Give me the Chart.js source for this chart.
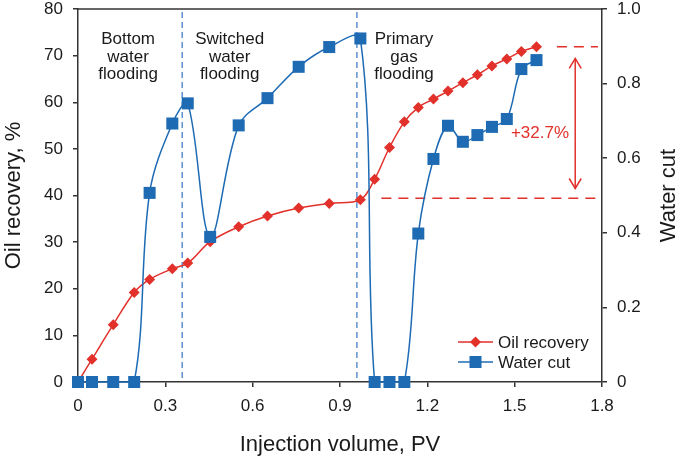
<!DOCTYPE html>
<html>
<head>
<meta charset="utf-8">
<script src="https://cdn.jsdelivr.net/npm/chart.js@4/dist/chart.umd.min.js"></script>
<style>
html,body{margin:0;padding:0;background:#fff;}
#wrap{width:685px;height:461px;}
</style>
</head>
<body>
<div id="wrap"><canvas id="c" width="685" height="461"></canvas></div>
<script>
// ---- data ----
const injectionVolume = [0, 0.048, 0.121, 0.193, 0.246, 0.324, 0.377, 0.454, 0.552, 0.651, 0.758, 0.863, 0.970,
  1.019, 1.070, 1.121, 1.169, 1.221, 1.271, 1.322, 1.372, 1.422, 1.473, 1.523, 1.575];
const oilRecovery = [0, 4.9, 12.3, 19.2, 22.0, 24.3, 25.5, 30.1, 33.3, 35.6, 37.3, 38.3, 39.1,
  43.5, 50.3, 55.8, 58.9, 60.7, 62.4, 64.2, 65.9, 67.8, 69.3, 70.9, 71.9];
const waterCut = [0, 0, 0, 0, 0.507, 0.693, 0.747, 0.389, 0.688, 0.761, 0.845, 0.898, 0.921,
  0, 0, 0, 0.398, 0.598, 0.687, 0.644, 0.662, 0.684, 0.705, 0.839, 0.863];

const seriesLabels = ['Oil recovery', 'Water cut'];
const xTicks = [0, 0.3, 0.6, 0.9, 1.2, 1.5, 1.8];
const xTickLabels = ['0', '0.3', '0.6', '0.9', '1.2', '1.5', '1.8'];
const yTicks = [0, 10, 20, 30, 40, 50, 60, 70, 80];
const yTickLabels = ['0', '10', '20', '30', '40', '50', '60', '70', '80'];
const y1Ticks = [0, 0.2, 0.4, 0.6, 0.8, 1.0];
const y1TickLabels = ['0', '0.2', '0.4', '0.6', '0.8', '1.0'];

const stageBoundaries = [0.358, 0.958];
const stageNames = [['Bottom', 'water', 'flooding'], ['Switched', 'water', 'flooding'], ['Primary', 'gas', 'flooding']];
const stageNameX = [0.172, 0.521, 1.12];
const stageNameY = 72.4;            // first line baseline (oil recovery units)
const recoveryBefore = 39.4;        // level before gas flooding
const recoveryAfter = 71.9;         // final level
const recoveryBeforeFromX = 1.042;
const recoveryAfterFromX = 1.645;
const recoveryAfterToX = 1.786;
const gainArrowX = 1.708;
const gainArrowRange = [69.4, 41.5];
const gainText = '+32.7%';
const gainTextPos = [1.587, 53.4];

const RED = '#e2302b';
const BLUE = '#1e6bb4';
const DASHBLUE = '#5d8fcf';
const AXIS = '#333333';
const TEXT = '#1a1a1a';
const FONT = "'Liberation Sans', Arial, Helvetica, sans-serif";

Chart.defaults.font.family = FONT;
Chart.defaults.color = TEXT;

function fixedTicks(arr) { return s => { s.ticks = arr.map(v => ({ value: v })); }; }

const overlay = {
  id: 'overlay',
  beforeDatasetsDraw(chart) {
    const { ctx, chartArea: ca, scales: { x, y } } = chart;
    ctx.save();
    // stage boundaries
    ctx.strokeStyle = DASHBLUE;
    ctx.lineWidth = 1.5;
    ctx.setLineDash([6, 4]);
    stageBoundaries.forEach(v => {
      const px = x.getPixelForValue(v);
      ctx.beginPath(); ctx.moveTo(px, ca.top + 3); ctx.lineTo(px, ca.bottom - 4); ctx.stroke();
    });
    // recovery levels
    ctx.strokeStyle = RED;
    ctx.setLineDash([10, 7]);
    ctx.beginPath();
    ctx.moveTo(x.getPixelForValue(recoveryBeforeFromX), y.getPixelForValue(recoveryBefore));
    ctx.lineTo(ca.right, y.getPixelForValue(recoveryBefore));
    ctx.stroke();
    ctx.beginPath();
    ctx.moveTo(x.getPixelForValue(recoveryAfterFromX), y.getPixelForValue(recoveryAfter));
    ctx.lineTo(x.getPixelForValue(recoveryAfterToX), y.getPixelForValue(recoveryAfter));
    ctx.stroke();
    ctx.setLineDash([]);
    // stage names
    ctx.fillStyle = TEXT;
    ctx.font = '17px ' + FONT;
    ctx.textAlign = 'center';
    ctx.textBaseline = 'alphabetic';
    stageNames.forEach((lines, i) => {
      const px = x.getPixelForValue(stageNameX[i]);
      const py = y.getPixelForValue(stageNameY);
      lines.forEach((t, k) => ctx.fillText(t, px, py + k * 17.2));
    });
    ctx.restore();
  },
  afterDatasetsDraw(chart) {
    const { ctx, chartArea: ca, scales: { x, y } } = chart;
    ctx.save();
    // top frame
    ctx.strokeStyle = AXIS; ctx.lineWidth = 1.5;
    ctx.beginPath(); ctx.moveTo(ca.left - 0.75, ca.top); ctx.lineTo(ca.right + 0.75, ca.top); ctx.stroke();
    // gain arrow
    const ax = x.getPixelForValue(gainArrowX);
    const a1 = y.getPixelForValue(gainArrowRange[0]);
    const a2 = y.getPixelForValue(gainArrowRange[1]);
    ctx.strokeStyle = RED; ctx.lineWidth = 1.5;
    ctx.beginPath(); ctx.moveTo(ax, a1); ctx.lineTo(ax, a2); ctx.stroke();
    ctx.beginPath();
    ctx.moveTo(ax - 6, a1 + 10); ctx.lineTo(ax, a1); ctx.lineTo(ax + 6, a1 + 10);
    ctx.moveTo(ax - 6, a2 - 10); ctx.lineTo(ax, a2); ctx.lineTo(ax + 6, a2 - 10);
    ctx.stroke();
    ctx.fillStyle = RED;
    ctx.font = '17px ' + FONT;
    ctx.textAlign = 'center'; ctx.textBaseline = 'middle';
    ctx.fillText(gainText, x.getPixelForValue(gainTextPos[0]), y.getPixelForValue(gainTextPos[1]));
    // legend
    const items = chart.data.datasets;
    items.forEach((ds, i) => {
      const ly = ca.bottom - 40 + i * 20;
      const lx1 = ca.right - 144, lx2 = ca.right - 109, mx = (lx1 + lx2) / 2;
      ctx.strokeStyle = ds.borderColor; ctx.lineWidth = 1.5;
      ctx.beginPath(); ctx.moveTo(lx1, ly); ctx.lineTo(lx2, ly); ctx.stroke();
      ctx.fillStyle = ds.pointBackgroundColor;
      ctx.beginPath();
      if (ds.pointStyle === 'rectRot') {
        const r = ds.pointRadius;
        ctx.moveTo(mx - r, ly); ctx.lineTo(mx, ly - r); ctx.lineTo(mx + r, ly); ctx.lineTo(mx, ly + r);
        ctx.closePath();
      } else {
        const h = ds.pointRadius * Math.SQRT1_2;
        ctx.rect(mx - h, ly - h, 2 * h, 2 * h);
      }
      ctx.fill();
      ctx.fillStyle = TEXT;
      ctx.font = '17px ' + FONT;
      ctx.textAlign = 'left'; ctx.textBaseline = 'middle';
      ctx.fillText(ds.label, lx2 + 5, ly + 1);
    });
    // right axis title (reads bottom-to-top)
    ctx.fillStyle = TEXT;
    ctx.font = '22px ' + FONT;
    ctx.textAlign = 'center'; ctx.textBaseline = 'middle';
    ctx.translate(chart.width - 15.7, (ca.top + ca.bottom) / 2);
    ctx.rotate(-Math.PI / 2);
    ctx.fillText('Water cut', 0, 0);
    ctx.restore();
  }
};

const axisGrid = { drawOnChartArea: false, drawTicks: true, tickLength: 5, color: AXIS, lineWidth: 1.5 };
const axisBorder = { display: true, color: AXIS, width: 1.5 };

new Chart(document.getElementById('c'), {
  type: 'line',
  data: {
    datasets: [
      {
        label: seriesLabels[0],
        data: injectionVolume.map((v, i) => ({ x: v, y: oilRecovery[i] })),
        yAxisID: 'y',
        borderColor: RED, backgroundColor: RED,
        pointBackgroundColor: RED, pointBorderWidth: 0,
        pointStyle: 'rectRot', pointRadius: 5.5,
        borderWidth: 1.5, tension: 0.35, order: 1, clip: 10
      },
      {
        label: seriesLabels[1],
        data: injectionVolume.map((v, i) => ({ x: v, y: waterCut[i] })),
        yAxisID: 'y1',
        borderColor: BLUE, backgroundColor: BLUE,
        pointBackgroundColor: BLUE, pointBorderWidth: 0,
        pointStyle: 'rect', pointRadius: 8.5,
        borderWidth: 1.5, tension: 0.35, order: 0, clip: 10
      }
    ]
  },
  options: {
    responsive: false,
    animation: false,
    devicePixelRatio: 1,
    layout: { padding: { top: 9, left: 0, right: 0, bottom: 0 } },
    plugins: { legend: { display: false }, tooltip: { enabled: false } },
    scales: {
      x: {
        type: 'linear', position: 'bottom', min: 0, max: 1.8,
        afterBuildTicks: fixedTicks(xTicks),
        afterFit: s => { s.height = 79; s.paddingLeft = 0; s.paddingRight = 0; },
        ticks: { callback: (v, i) => xTickLabels[i], font: { size: 17 }, color: TEXT, padding: 9, maxRotation: 0, autoSkip: false },
        grid: axisGrid, border: axisBorder,
        title: { display: true, text: 'Injection volume, PV', font: { size: 22 }, color: TEXT, padding: { top: 0, bottom: 3 } }
      },
      y: {
        type: 'linear', position: 'left', min: 0, max: 80,
        afterBuildTicks: fixedTicks(yTicks),
        afterFit: s => { s.width = 78; s.paddingTop = 0; s.paddingBottom = 0; },
        ticks: { callback: (v, i) => yTickLabels[i], font: { size: 17 }, color: TEXT, padding: 10, autoSkip: false },
        grid: axisGrid, border: axisBorder,
        title: { display: true, text: 'Oil recovery, %', font: { size: 22 }, color: TEXT, padding: { top: 1, bottom: 0 } }
      },
      y1: {
        type: 'linear', position: 'right', min: 0, max: 1,
        afterBuildTicks: fixedTicks(y1Ticks),
        afterFit: s => { s.width = 83; s.paddingTop = 0; s.paddingBottom = 0; },
        ticks: { callback: (v, i) => y1TickLabels[i], font: { size: 17 }, color: TEXT, padding: 10, autoSkip: false },
        grid: axisGrid, border: axisBorder,
        title: { display: false, text: 'Water cut' }
      }
    }
  },
  plugins: [overlay]
});
</script>
</body>
</html>
